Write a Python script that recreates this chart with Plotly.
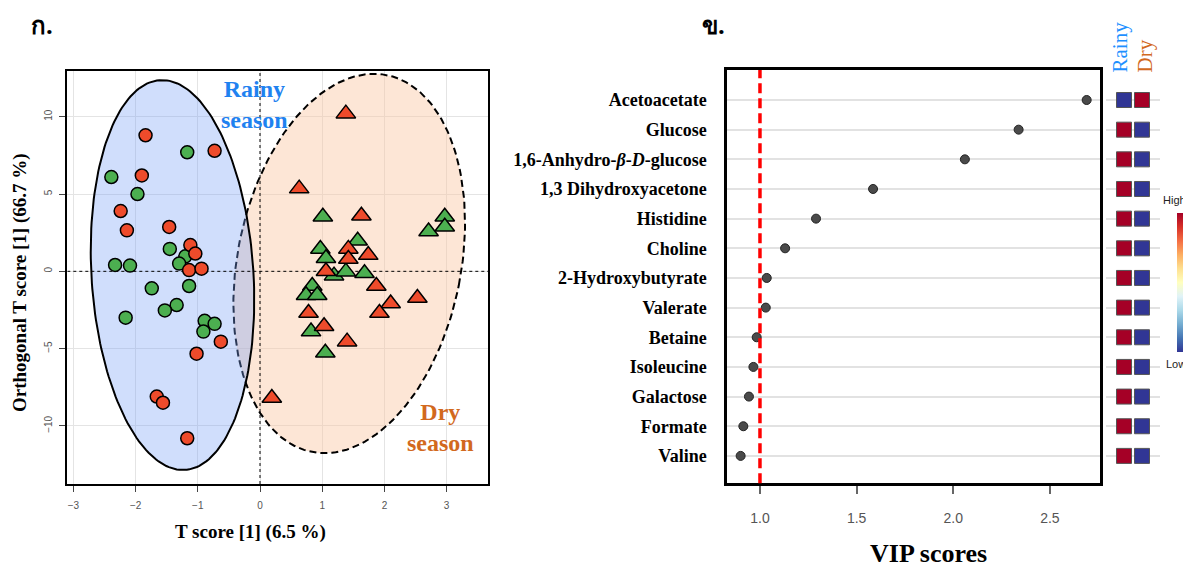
import numpy as np
import plotly.graph_objects as go

# page body has an 8px margin, so the figure is sized to fill the rest of the window
W, H = 1183, 561
OFF = 8

# ---------------- Panel ก : OPLS-DA score plot ----------------
rainy_red_x = [-1.84, -0.73, -1.90, -2.24, -2.14, -1.46, -1.12, -1.04, -1.14, -0.94, -0.63, -1.02, -1.66, -1.56, -1.17]
rainy_red_y = [8.8, 7.8, 6.2, 3.9, 2.65, 2.87, 1.7, 1.15, 0.08, 0.17, -4.55, -5.33, -8.1, -8.5, -10.8]
rainy_green_x = [-1.17, -2.39, -1.97, -1.45, -1.20, -1.30, -2.33, -2.09, -1.74, -1.14, -1.34, -1.53, -2.16, -0.89, -0.73, -0.91]
rainy_green_y = [7.7, 6.1, 5.0, 1.45, 0.97, 0.5, 0.41, 0.37, -1.1, -0.95, -2.18, -2.53, -3.0, -3.2, -3.4, -3.9]
dry_red_x = [1.38, 0.63, 1.63, 1.42, 1.42, 1.74, 1.06, 1.87, 2.10, 2.53, 1.92, 0.78, 1.03, 1.40, 0.19]
dry_red_y = [10.2, 5.35, 3.6, 1.45, 0.8, 1.05, 0.0, -0.95, -2.08, -1.73, -2.7, -2.7, -3.55, -4.55, -8.2]
dry_green_x = [1.01, 2.97, 2.97, 2.71, 1.57, 0.97, 1.06, 1.19, 1.38, 1.68, 0.84, 0.74, 0.92, 0.82, 1.05]
dry_green_y = [3.53, 3.53, 2.88, 2.58, 1.98, 1.44, 0.84, -0.28, -0.02, -0.13, -0.95, -1.55, -1.55, -3.9, -5.27]

# confidence ellipses: centre and two conjugate semi-axis vectors (data units)
rainy_ell_center = [-1.407, -0.24]
rainy_ell_major = [-0.201, 12.61]
rainy_ell_minor = [1.299, 0.336]
dry_ell_center = [1.434, 0.505]
dry_ell_major = [0.603, 12.19]
dry_ell_minor = [1.762, -1.41]

x_ticks_left = [-3, -2, -1, 0, 1, 2, 3]
y_ticks_left = [-10, -5, 0, 5, 10]

# ---------------- Panel ข : VIP scores ----------------
metabolites = ["Acetoacetate", "Glucose", "1,6-Anhydro-<i>β</i>-<i>D</i>-glucose",
               "1,3 Dihydroxyacetone", "Histidine", "Choline", "2-Hydroxybutyrate",
               "Valerate", "Betaine", "Isoleucine", "Galactose", "Formate", "Valine"]
vip_scores = [2.69, 2.338, 2.06, 1.585, 1.29, 1.13, 1.035, 1.03, 0.983, 0.966, 0.943, 0.914, 0.90]
rainy_level = [0, 1, 1, 1, 1, 1, 1, 1, 1, 1, 1, 1, 1]   # 1 = high, 0 = low
dry_level = [1, 0, 0, 0, 0, 0, 0, 0, 0, 0, 0, 0, 0]
groups = ["Rainy", "Dry"]
vip_threshold = 1.0
vip_ticks = [1.0, 1.5, 2.0, 2.5]

RED = "#EE4B2B"
GREEN = "#4CAF50"
SERIF = "Times New Roman, Liberation Serif, serif"
SANS = "Arial, Liberation Sans, sans-serif"


def fx(p):
    return (p - OFF) / W


def fy(p):
    return 1 - (p - OFF) / H


def ellipse(center, major, minor, n=200):
    t = np.linspace(0, 2 * np.pi, n)
    x = center[0] + major[0] * np.sin(t) + minor[0] * np.cos(t)
    y = center[1] + major[1] * np.sin(t) + minor[1] * np.cos(t)
    return x, y


fig = go.Figure()

xr_left = [-3.098, 3.67]
yr_left = [-13.76, 12.96]

ex, ey = ellipse(dry_ell_center, dry_ell_major, dry_ell_minor)
fig.add_trace(go.Scatter(x=ex, y=ey, mode="lines", fill="toself",
                         fillcolor="rgba(250,200,165,0.45)",
                         line=dict(color="black", width=2, dash="7px,4px"),
                         hoverinfo="skip", showlegend=False, xaxis="x", yaxis="y"))
ex, ey = ellipse(rainy_ell_center, rainy_ell_major, rainy_ell_minor)
fig.add_trace(go.Scatter(x=ex, y=ey, mode="lines", fill="toself",
                         fillcolor="rgba(120,160,245,0.35)",
                         line=dict(color="black", width=2),
                         hoverinfo="skip", showlegend=False, xaxis="x", yaxis="y"))
# dotted zero lines
fig.add_trace(go.Scatter(x=[0, 0], y=yr_left, mode="lines",
                         line=dict(color="black", width=1, dash="dot"),
                         hoverinfo="skip", showlegend=False, xaxis="x", yaxis="y"))
fig.add_trace(go.Scatter(x=xr_left, y=[0, 0], mode="lines",
                         line=dict(color="black", width=1, dash="dot"),
                         hoverinfo="skip", showlegend=False, xaxis="x", yaxis="y"))

mk_line = dict(color="black", width=1.5)
fig.add_trace(go.Scatter(x=rainy_green_x, y=rainy_green_y, mode="markers",
                         marker=dict(symbol="circle", size=13, color=GREEN, line=mk_line),
                         showlegend=False, xaxis="x", yaxis="y"))
fig.add_trace(go.Scatter(x=rainy_red_x, y=rainy_red_y, mode="markers",
                         marker=dict(symbol="circle", size=13, color=RED, line=mk_line),
                         showlegend=False, xaxis="x", yaxis="y"))
fig.add_trace(go.Scatter(x=dry_green_x, y=dry_green_y, mode="markers",
                         marker=dict(symbol="triangle-up", size=17, color=GREEN, line=mk_line),
                         showlegend=False, xaxis="x", yaxis="y"))
fig.add_trace(go.Scatter(x=dry_red_x, y=dry_red_y, mode="markers",
                         marker=dict(symbol="triangle-up", size=17, color=RED, line=mk_line),
                         showlegend=False, xaxis="x", yaxis="y"))

# VIP dots
fig.add_trace(go.Scatter(x=vip_scores, y=metabolites, mode="markers",
                         marker=dict(size=9, color="#4a4a4a", line=dict(color="#222", width=1)),
                         showlegend=False, xaxis="x2", yaxis="y2"))

# group level squares
sq_x = [groups[0]] * len(metabolites) + [groups[1]] * len(metabolites)
sq_y = metabolites + metabolites
sq_c = rainy_level + dry_level
fig.add_trace(go.Scatter(
    x=sq_x, y=sq_y, mode="markers", showlegend=False, xaxis="x3", yaxis="y2",
    marker=dict(symbol="square", size=15, color=sq_c, colorscale="RdYlBu", reversescale=True,
                cmin=0, cmax=1, line=dict(color="#555", width=1), showscale=True,
                colorbar=dict(x=fx(1177), xanchor="left", y=fy(282.5), yanchor="middle",
                              len=139 / H, lenmode="fraction", thickness=16, outlinewidth=0,
                              xpad=0, ypad=0, showticklabels=False, ticks=""))))

fig.add_shape(type="line", xref="x2", yref="y2 domain", x0=vip_threshold, x1=vip_threshold,
              y0=0, y1=1, line=dict(color="#FF0000", width=3.5, dash="10px,5px"), layer="above")

cat_order = list(reversed(metabolites))

fig.update_layout(
    width=W, height=H, plot_bgcolor="white", paper_bgcolor="white",
    margin=dict(l=0, r=0, t=0, b=0, autoexpand=False),
    xaxis=dict(domain=[fx(67.3), fx(488.3)], range=xr_left, tickvals=x_ticks_left,
               showgrid=True, gridcolor="#E4E4E4", gridwidth=1, zeroline=False,
               showline=True, mirror=True, linecolor="black", linewidth=2,
               ticks="outside", ticklen=6, tickcolor="#444",
               tickfont=dict(family=SANS, size=10, color="#555"), ticklabelstandoff=5,
               anchor="y"),
    yaxis=dict(domain=[fy(484), fy(71)], range=yr_left, tickvals=y_ticks_left,
               showgrid=True, gridcolor="#E4E4E4", gridwidth=1, zeroline=False,
               showline=True, mirror=True, linecolor="black", linewidth=2,
               ticks="outside", ticklen=6, tickcolor="#444", tickangle=-90,
               tickfont=dict(family=SANS, size=10, color="#555"), ticklabelstandoff=3,
               anchor="x"),
    xaxis2=dict(domain=[fx(727.3), fx(1100)], range=[0.831, 2.759], tickvals=vip_ticks,
                ticktext=["1.0", "1.5", "2.0", "2.5"],
                showgrid=False, zeroline=False, showline=True, mirror=True,
                linecolor="black", linewidth=3, ticks="outside", ticklen=8, tickwidth=1.5,
                tickcolor="#666", tickfont=dict(family=SANS, size=14, color="#555"),
                ticklabelstandoff=12, anchor="y2"),
    yaxis2=dict(domain=[fy(483.3), fy(70)], type="category",
                categoryorder="array", categoryarray=cat_order, range=[-0.924, 13.012],
                showgrid=True, gridcolor="#E2E2E2", gridwidth=2, zeroline=False,
                showline=True, mirror=True, linecolor="black", linewidth=3,
                ticks="", ticklabelstandoff=14,
                tickfont=dict(family=SERIF, size=18, color="black", weight="bold"),
                anchor="x2"),
    xaxis3=dict(domain=[fx(1106), fx(1160)], type="category", categoryorder="array",
                categoryarray=groups, range=[-1, 2], visible=False, anchor="y2"),
)

ann = []


def add_text(text, x, y, size, color="black", family=SERIF, weight="bold", angle=0,
             xanchor="center", yanchor="middle"):
    ann.append(dict(text=text, x=fx(x), y=fy(y), xref="paper", yref="paper",
                    showarrow=False, textangle=angle, xanchor=xanchor, yanchor=yanchor,
                    font=dict(family=family, size=size, color=color, weight=weight)))


add_text("ก.", 42, 25, 24, family="Noto Sans, DejaVu Sans, sans-serif")
add_text("ข.", 713, 25, 24, family="Noto Sans, DejaVu Sans, sans-serif")
add_text("Rainy<br>season", 254, 105, 24, color="#1F82F0")
add_text("Dry<br>season", 440, 427, 24, color="#D2691E")
add_text("Orthogonal T score [1] (66.7 %)", 20, 283, 19, angle=-90)
add_text("T score [1] (6.5 %)", 250, 532, 19)
add_text("VIP scores", 928, 553, 26)
add_text("Rainy", 1120, 75, 21, color="#1E90FF", weight="normal", angle=-90, yanchor="bottom")
add_text("Dry", 1145, 75, 21, color="#D2691E", weight="normal", angle=-90, yanchor="bottom")
add_text("High", 1188, 200, 11, color="#222", family=SANS, weight="normal", xanchor="right")
add_text("Low", 1188, 364, 11, color="#222", family=SANS, weight="normal", xanchor="right")

fig.update_layout(annotations=ann)

fig.write_html("out.html")
